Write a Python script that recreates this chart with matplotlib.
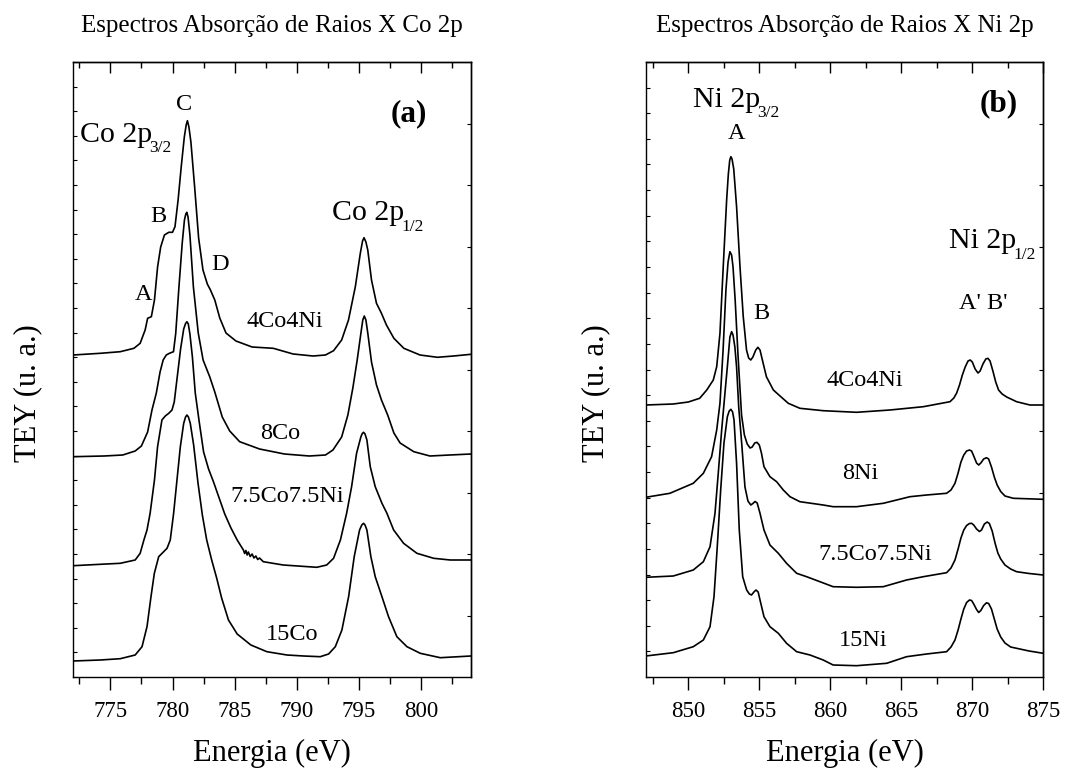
import numpy as np
import matplotlib
matplotlib.use("Agg")
import matplotlib.pyplot as plt
from matplotlib.ticker import MultipleLocator

plt.rcParams['font.family'] = ['Liberation Serif', 'DejaVu Serif']

# ---- Co 2p (painel a), espectros ja deslocados verticalmente ----
e_co_4co4ni = [772.0, 774.2, 775.8, 776.9, 777.4, 777.8, 778.0, 778.3, 778.55, 778.8, 779.05, 779.35,
               779.7, 780.0, 780.2, 780.45, 780.7, 780.95, 781.1, 781.2, 781.32, 781.48, 781.78, 782.1,
               782.45, 782.8, 783.05, 783.4, 783.8, 784.3, 785.1, 786.4, 788.1, 789.7, 791.3, 792.3,
               792.95, 793.6, 794.15, 794.7, 795.1, 795.28, 795.4, 795.55, 795.7, 796.0, 796.4, 796.8,
               797.2, 797.8, 798.6, 799.9, 801.3, 802.6, 804.0]
i_co_4co4ni = [3.22, 3.237, 3.253, 3.287, 3.337, 3.47, 3.587, 3.603, 3.77, 4.10, 4.30, 4.42,
               4.447, 4.447, 4.503, 4.77, 5.10, 5.40, 5.52, 5.563, 5.50, 5.35, 4.90, 4.39,
               4.07, 3.93, 3.87, 3.77, 3.59, 3.44, 3.36, 3.30, 3.287, 3.23, 3.21, 3.22,
               3.263, 3.37, 3.57, 3.903, 4.237, 4.36, 4.393, 4.35, 4.27, 3.97, 3.737, 3.637,
               3.52, 3.387, 3.287, 3.22, 3.197, 3.21, 3.227]

e_co_8co = [772.0, 774.5, 776.0, 777.0, 777.5, 778.0, 778.35, 778.7, 779.0, 779.25, 779.5, 779.75,
            780.08, 780.26, 780.52, 780.78, 780.96, 781.07, 781.15, 781.25, 781.4, 781.68, 782.07,
            782.46, 783.0, 783.4, 784.0, 784.6, 785.4, 787.0, 789.0, 791.0, 792.3, 792.9, 793.6,
            794.1, 794.5, 794.85, 795.15, 795.3, 795.42, 795.55, 795.7, 796.0, 796.4, 796.8, 797.3,
            797.8, 798.3, 799.4, 800.7, 802.3, 804.0]
i_co_8co = [2.203, 2.21, 2.22, 2.26, 2.31, 2.45, 2.67, 2.84, 3.05, 3.17, 3.22, 3.237,
            3.253, 3.437, 3.903, 4.337, 4.57, 4.63, 4.647, 4.60, 4.42, 3.90, 3.44,
            3.17, 3.00, 2.85, 2.60, 2.46, 2.353, 2.28, 2.23, 2.21, 2.22, 2.27, 2.40,
            2.62, 2.89, 3.17, 3.44, 3.57, 3.61, 3.57, 3.44, 3.15, 2.92, 2.77, 2.62,
            2.44, 2.34, 2.253, 2.21, 2.22, 2.23]

e_co_75 = [772.0, 774.2, 775.8, 777.0, 777.4, 777.7, 777.95, 778.2, 778.55, 778.8, 779.15, 779.42,
           779.7, 779.96, 780.14, 780.4, 780.65, 780.9, 781.05, 781.16, 781.27, 781.4, 781.6, 781.83,
           782.15, 782.5, 782.9, 783.3, 783.75, 784.2, 784.7, 785.2, 785.7, 785.8, 785.9, 786.0,
           786.1, 786.25, 786.4, 786.55, 786.7, 786.85, 787.0, 787.3, 788.9, 791.6, 792.4, 792.95,
           793.5, 794.0, 794.4, 794.8, 795.15, 795.26, 795.36, 795.48, 795.63, 795.9, 796.3, 796.84,
           797.24, 797.78, 798.58, 799.65, 801.0, 802.33, 804.0]
i_co_75 = [1.113, 1.127, 1.137, 1.17, 1.237, 1.37, 1.47, 1.637, 1.97, 2.303, 2.57, 2.61,
           2.637, 2.67, 2.75, 3.02, 3.28, 3.48, 3.535, 3.553, 3.53, 3.43, 3.20, 2.84,
           2.55, 2.25, 2.08, 1.95, 1.79, 1.63, 1.49, 1.37, 1.27, 1.235, 1.265, 1.22,
           1.25, 1.205, 1.23, 1.19, 1.21, 1.175, 1.19, 1.153, 1.12, 1.097, 1.12, 1.187,
           1.37, 1.637, 1.903, 2.237, 2.403, 2.435, 2.447, 2.43, 2.37, 2.103, 1.903, 1.737,
           1.637, 1.47, 1.337, 1.237, 1.187, 1.17, 1.17]

e_co_15co = [772.0, 774.2, 775.8, 777.0, 777.55, 777.95, 778.27, 778.54, 778.89, 779.29, 779.56,
             779.82, 780.09, 780.36, 780.63, 780.9, 781.05, 781.16, 781.28, 781.43, 781.7, 782.05,
             782.4, 782.75, 783.15, 783.55, 783.95, 784.5, 785.2, 786.3, 787.59, 789.2, 790.54,
             791.88, 792.55, 793.09, 793.62, 794.16, 794.61, 795.04, 795.22, 795.36, 795.48, 795.63,
             795.95, 796.3, 796.84, 797.37, 798.04, 798.85, 799.92, 801.53, 804.0]
i_co_15co = [0.16, 0.17, 0.183, 0.22, 0.303, 0.503, 0.803, 1.037, 1.203, 1.253, 1.287,
             1.37, 1.637, 1.97, 2.303, 2.537, 2.60, 2.62, 2.60, 2.537, 2.32, 1.94,
             1.62, 1.37, 1.17, 0.99, 0.79, 0.57, 0.43, 0.32, 0.253, 0.22, 0.21,
             0.203, 0.23, 0.303, 0.47, 0.803, 1.203, 1.47, 1.52, 1.537, 1.52, 1.47,
             1.203, 1.003, 0.803, 0.603, 0.403, 0.303, 0.237, 0.193, 0.21]

# ---- Ni 2p (painel b) ----
e_ni_4co4ni = [847.0, 848.94, 850.0, 850.8, 851.3, 851.76, 852.0, 852.23, 852.46, 852.7, 852.82,
               852.92, 853.0, 853.08, 853.2, 853.4, 853.64, 853.87, 854.1, 854.25, 854.4, 854.55,
               854.75, 854.9, 855.05, 855.2, 855.5, 855.99, 856.46, 857.04, 857.86, 859.5, 861.85,
               864.2, 866.55, 868.43, 868.7, 868.9, 869.1, 869.3, 869.5, 869.7, 869.85, 870.0, 870.2,
               870.4, 870.55, 870.75, 870.95, 871.1, 871.25, 871.45, 871.65, 871.85, 872.1, 872.42,
               873.12, 874.06, 875.0]
i_ni_4co4ni = [2.72, 2.73, 2.75, 2.787, 2.87, 2.97, 3.103, 3.437, 4.103, 4.77, 5.03,
               5.17, 5.203, 5.18, 5.08, 4.703, 4.103, 3.603, 3.27, 3.19, 3.17, 3.20,
               3.27, 3.297, 3.27, 3.18, 3.003, 2.87, 2.81, 2.737, 2.687, 2.663, 2.647,
               2.67, 2.703, 2.753, 2.79, 2.84, 2.92, 3.02, 3.10, 3.16, 3.17, 3.15, 3.08,
               3.04, 3.06, 3.13, 3.18, 3.187, 3.16, 3.06, 2.95, 2.87, 2.83, 2.80,
               2.753, 2.72, 2.72]

e_ni_8ni = [847.0, 848.7, 850.35, 851.06, 851.64, 852.0, 852.23, 852.45, 852.65, 852.8, 852.93,
            853.05, 853.15, 853.3, 853.5, 853.75, 853.95, 854.15, 854.35, 854.5, 854.68, 854.83,
            855.0, 855.15, 855.33, 855.75, 856.22, 856.69, 857.16, 857.86, 859.5, 860.2, 861.85,
            863.73, 865.61, 866.78, 868.19, 868.5, 868.78, 869.0, 869.2, 869.4, 869.6, 869.8,
            869.95, 870.1, 870.3, 870.45, 870.6, 870.8, 871.0, 871.15, 871.35, 871.55, 871.75,
            872.0, 872.3, 872.89, 875.0]
i_ni_8ni = [1.797, 1.837, 1.937, 2.037, 2.203, 2.47, 2.737, 3.27, 3.87, 4.15, 4.253,
            4.22, 4.10, 3.77, 3.22, 2.62, 2.42, 2.33, 2.29, 2.30, 2.34, 2.347,
            2.32, 2.24, 2.103, 2.003, 1.953, 1.87, 1.803, 1.753, 1.72, 1.703, 1.703,
            1.737, 1.803, 1.82, 1.837, 1.87, 1.937, 2.04, 2.15, 2.22, 2.26, 2.27,
            2.26, 2.21, 2.14, 2.12, 2.14, 2.18, 2.193, 2.18, 2.10, 2.00, 1.92,
            1.855, 1.81, 1.787, 1.777]

e_ni_75 = [847.0, 848.94, 850.35, 851.06, 851.53, 851.88, 852.11, 852.35, 852.58, 852.75, 852.93,
           853.05, 853.15, 853.28, 853.4, 853.55, 853.76, 853.99, 854.2, 854.4, 854.55, 854.7,
           854.85, 855.05, 855.33, 855.75, 856.34, 856.92, 857.63, 858.33, 859.27, 860.2, 861.85,
           863.73, 865.37, 866.55, 868.19, 868.5, 868.78, 869.0, 869.2, 869.4, 869.6, 869.8,
           869.95, 870.1, 870.3, 870.5, 870.65, 870.85, 871.05, 871.2, 871.4, 871.6, 871.8,
           872.0, 872.3, 872.7, 873.12, 874.0, 875.0]
i_ni_75 = [0.997, 1.01, 1.07, 1.153, 1.303, 1.637, 2.037, 2.47, 2.837, 3.103, 3.40,
           3.453, 3.42, 3.30, 3.10, 2.70, 2.337, 1.90, 1.76, 1.72, 1.735, 1.755,
           1.74, 1.637, 1.47, 1.32, 1.237, 1.137, 1.037, 1.003, 0.953, 0.903, 0.897,
           0.903, 0.97, 1.003, 1.043, 1.09, 1.17, 1.28, 1.39, 1.47, 1.515, 1.535,
           1.537, 1.52, 1.48, 1.455, 1.47, 1.53, 1.55, 1.535, 1.46, 1.34, 1.24,
           1.18, 1.12, 1.08, 1.053, 1.035, 1.02]

e_ni_15ni = [847.0, 848.94, 850.35, 851.06, 851.53, 851.81, 852.04, 852.28, 852.51, 852.75, 852.88,
             853.0, 853.12, 853.22, 853.4, 853.59, 853.83, 854.11, 854.3, 854.45, 854.62, 854.77,
             854.92, 855.05, 855.33, 855.75, 856.34, 856.92, 857.63, 858.57, 859.5, 860.2, 861.85,
             863.97, 865.37, 866.78, 868.19, 868.5, 868.78, 869.0, 869.2, 869.4, 869.6, 869.8,
             869.95, 870.1, 870.3, 870.45, 870.6, 870.8, 871.0, 871.15, 871.35, 871.55, 871.75,
             872.0, 872.3, 872.7, 873.12, 874.0, 875.0]
i_ni_15ni = [0.21, 0.243, 0.303, 0.37, 0.503, 0.803, 1.303, 1.87, 2.337, 2.603, 2.66,
             2.677, 2.65, 2.57, 2.137, 1.47, 1.003, 0.87, 0.83, 0.82, 0.85, 0.87,
             0.85, 0.77, 0.603, 0.503, 0.437, 0.337, 0.253, 0.22, 0.17, 0.12, 0.113,
             0.137, 0.203, 0.23, 0.253, 0.30, 0.37, 0.47, 0.58, 0.68, 0.745, 0.77,
             0.765, 0.73, 0.675, 0.645, 0.665, 0.715, 0.742, 0.735, 0.68, 0.58, 0.48,
             0.40, 0.34, 0.30, 0.287, 0.26, 0.237]

fig = plt.figure(figsize=(10.81, 7.71), dpi=100)
W, H = 1081.0, 771.0
ax1 = fig.add_axes([73 / W, 94 / H, 398 / W, 615 / H])
ax2 = fig.add_axes([645.7 / W, 94 / H, 397.6 / W, 615 / H])

lw = 1.2
ax1.plot(e_co_4co4ni, i_co_4co4ni, color='black', lw=lw)
ax1.plot(e_co_8co, i_co_8co, color='black', lw=lw)
ax1.plot(e_co_75, i_co_75, color='black', lw=lw)
ax1.plot(e_co_15co, i_co_15co, color='black', lw=lw)

ax2.plot(e_ni_4co4ni, i_ni_4co4ni, color='black', lw=lw)
ax2.plot(e_ni_8ni, i_ni_8ni, color='black', lw=lw)
ax2.plot(e_ni_75, i_ni_75, color='black', lw=lw)
ax2.plot(e_ni_15ni, i_ni_15ni, color='black', lw=lw)


def arruma_eixo(ax, xmin, xmax, xmaj, n_esq):
    ax.set_xlim(xmin, xmax)
    ax.set_ylim(0, 6.15)
    ax.xaxis.set_major_locator(MultipleLocator(xmaj))
    ax.xaxis.set_minor_locator(MultipleLocator(xmaj / 2))
    ax.tick_params(axis='x', which='major', direction='out', length=9, width=1,
                   labelsize=16.5, pad=8)
    ax.tick_params(axis='x', which='minor', direction='out', length=5, width=1)
    ax.set_yticks(np.linspace(0, 6.15, n_esq + 1))
    ax.set_yticklabels([])
    ax.tick_params(axis='y', direction='in', length=3, width=0.8)
    for s in ax.spines.values():
        s.set_linewidth(1.0)
    # ticks de cima (para dentro)
    sx = ax.secondary_xaxis('top')
    sx.xaxis.set_major_locator(MultipleLocator(xmaj))
    sx.xaxis.set_minor_locator(MultipleLocator(xmaj / 2))
    sx.set_xticklabels([])
    sx.tick_params(which='major', direction='in', length=8, width=1)
    sx.tick_params(which='minor', direction='in', length=4.5, width=1)
    sx.spines['top'].set_linewidth(1.0)
    # ticks da direita
    sy = ax.secondary_yaxis('right')
    sy.set_yticks(np.linspace(0, 6.15, 11)[1:-1])
    sy.set_yticklabels([])
    sy.tick_params(direction='in', length=3, width=0.8)
    sy.spines['right'].set_linewidth(1.0)
    ax.set_xlabel('Energia (eV)', fontsize=22)
    ax.xaxis.set_label_coords(0.5, -0.100)
    ax.set_ylabel('TEY (u. a.)', fontsize=22)


def rotulo_sub(ax, x, y, texto, sub):
    t = ax.text(x, y, texto, fontsize=21.5, ha='left', va='baseline')
    ax.annotate(sub, xy=(1, 0), xycoords=t, xytext=(-2.0, -3.4), textcoords='offset points',
                fontsize=12.5, ha='left', va='baseline')


arruma_eixo(ax1, 772, 804, 5, 25)
arruma_eixo(ax2, 847, 875, 5, 24)
ax1.yaxis.set_label_coords(-0.078, 0.462)
ax2.yaxis.set_label_coords(-0.090, 0.462)

ax1.text(0.5, 1 + 30 / 615, 'Espectros Absorção de Raios X Co 2p', transform=ax1.transAxes,
         ha='center', va='baseline', fontsize=18)
ax2.text(0.5, 1 + 30 / 615, 'Espectros Absorção de Raios X Ni 2p', transform=ax2.transAxes,
         ha='center', va='baseline', fontsize=18)

fs = 17.5
# painel (a)
rotulo_sub(ax1, 772.59, 5.353, 'Co 2p', '3/2')
rotulo_sub(ax1, 792.82, 4.57, 'Co 2p', '1/2')
ax1.text(798.98, 5.637, '(a)', fontsize=22.5, fontweight='bold', ha='center', va='center')
ax1.text(780.95, 5.72, 'C', fontsize=fs, ha='center', va='center')
ax1.text(778.88, 4.603, 'B', fontsize=fs, ha='center', va='center')
ax1.text(777.68, 3.82, 'A', fontsize=fs, ha='center', va='center')
ax1.text(783.84, 4.12, 'D', fontsize=fs, ha='center', va='center')
ax1.text(789.07, 3.553, '4Co4Ni', fontsize=fs, ha='center', va='center')
ax1.text(788.67, 2.437, '8Co', fontsize=fs, ha='center', va='center')
ax1.text(789.25, 1.803, '7.5Co7.5Ni', fontsize=fs, ha='center', va='center')
ax1.text(789.6, 0.42, '15Co', fontsize=fs, ha='center', va='center')

# painel (b)
rotulo_sub(ax2, 850.31, 5.703, 'Ni 2p', '3/2')
rotulo_sub(ax2, 868.38, 4.287, 'Ni 2p', '1/2')
ax2.text(871.83, 5.737, '(b)', fontsize=22.5, fontweight='bold', ha='center', va='center')
ax2.text(853.41, 5.437, 'A', fontsize=fs, ha='center', va='center')
ax2.text(855.17, 3.637, 'B', fontsize=fs, ha='center', va='center')
ax2.text(870.77, 3.737, "A' B'", fontsize=fs, ha='center', va='center')
ax2.text(862.44, 2.97, '4Co4Ni', fontsize=fs, ha='center', va='center')
ax2.text(862.14, 2.037, '8Ni', fontsize=fs, ha='center', va='center')
ax2.text(863.15, 1.22, '7.5Co7.5Ni', fontsize=fs, ha='center', va='center')
ax2.text(862.32, 0.37, '15Ni', fontsize=fs, ha='center', va='center')

plt.savefig('out.png', dpi=100)
